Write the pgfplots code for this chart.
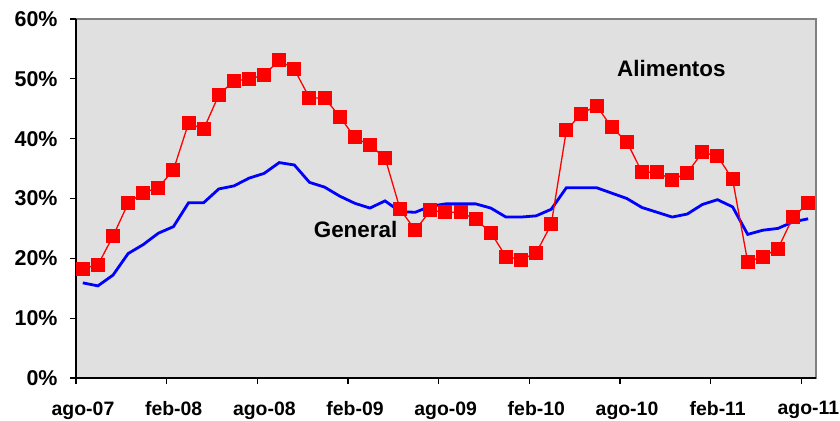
\documentclass[border=0pt]{standalone}
\usepackage{fontspec}
\setmainfont{Liberation Sans}
\usepackage{pgfplots}
\usepackage{pgfplotstable}
\pgfplotsset{compat=1.18}
\definecolor{bgray}{RGB}{224,224,224}
\pgfplotstableread{
m ali gen
0 18.3 15.9
1 18.9 15.4
2 23.7 17.2
3 29.2 20.8
4 31.0 22.3
5 31.8 24.2
6 34.8 25.3
7 42.6 29.3
8 41.6 29.3
9 47.3 31.6
10 49.7 32.1
11 49.9 33.4
12 50.7 34.2
13 53.1 36.0
14 51.6 35.6
15 46.8 32.7
16 46.8 31.9
17 43.7 30.4
18 40.2 29.2
19 38.9 28.4
20 36.8 29.6
21 28.2 27.8
22 24.7 27.7
23 28.0 28.7
24 27.7 29.1
25 27.7 29.1
26 26.5 29.1
27 24.3 28.4
28 20.3 26.9
29 19.8 26.9
30 20.9 27.1
31 25.7 28.2
32 41.4 31.8
33 44.2 31.8
34 45.5 31.8
35 41.9 30.9
36 39.5 30.0
37 34.4 28.5
38 34.4 27.7
39 33.1 26.9
40 34.3 27.4
41 37.7 29.0
42 37.1 29.8
43 33.2 28.6
44 19.4 24.0
45 20.3 24.7
46 21.6 25.0
47 26.9 26.1
48 29.2 26.6
}\datatable
\begin{document}
\begin{tikzpicture}
\path[use as bounding box] (-76bp,-43bp) rectangle (764bp,378bp);
\begin{axis}[
  at={(0,0)}, anchor=south west,
  scale only axis, width=740bp, height=359bp,
  xmin=0, xmax=48.97, ymin=0, ymax=60,
  axis lines=left,
  axis line style={-, black, line width=1.8bp},
  axis background/.style={fill=bgray, draw=gray, line width=1.2bp},
  xtick={0,6,12,18,24,30,36,42,48},
  xticklabels={ago-07,feb-08,ago-08,feb-09,ago-09,feb-10,ago-10,feb-11,ago-11},
  ytick={0,10,20,30,40,50,60},
  yticklabel={\pgfmathprintnumber{\tick}\%},
  /pgf/number format/assume math mode=true,
  tick align=outside,
  major tick length=6bp,
  tick style={black, line width=1.2bp},
  x tick label style={font=\fontsize{19.5}{22}\selectfont\bfseries, yshift=-14bp, xshift=7bp},
  y tick label style={font=\fontsize{21.5}{24}\selectfont\bfseries, xshift=-9bp},
  clip=false,
]
\addplot[color=blue, line width=2.8bp, no marks] table[x expr=\thisrow{m}+0.45, y=gen] {\datatable};
\addplot[color=red, line width=1.3bp, mark=square*, mark size=6.5bp, mark options={solid, fill=red, draw=red, line width=0pt}] table[x expr=\thisrow{m}+0.45, y=ali] {\datatable};
\node[font=\fontsize{22.5}{26}\selectfont\bfseries] at (axis cs:39.4,51.8) {Alimentos};
\node[font=\fontsize{22.5}{26}\selectfont\bfseries] at (axis cs:18.5,24.9) {General};
\end{axis}
\end{tikzpicture}
\end{document}
